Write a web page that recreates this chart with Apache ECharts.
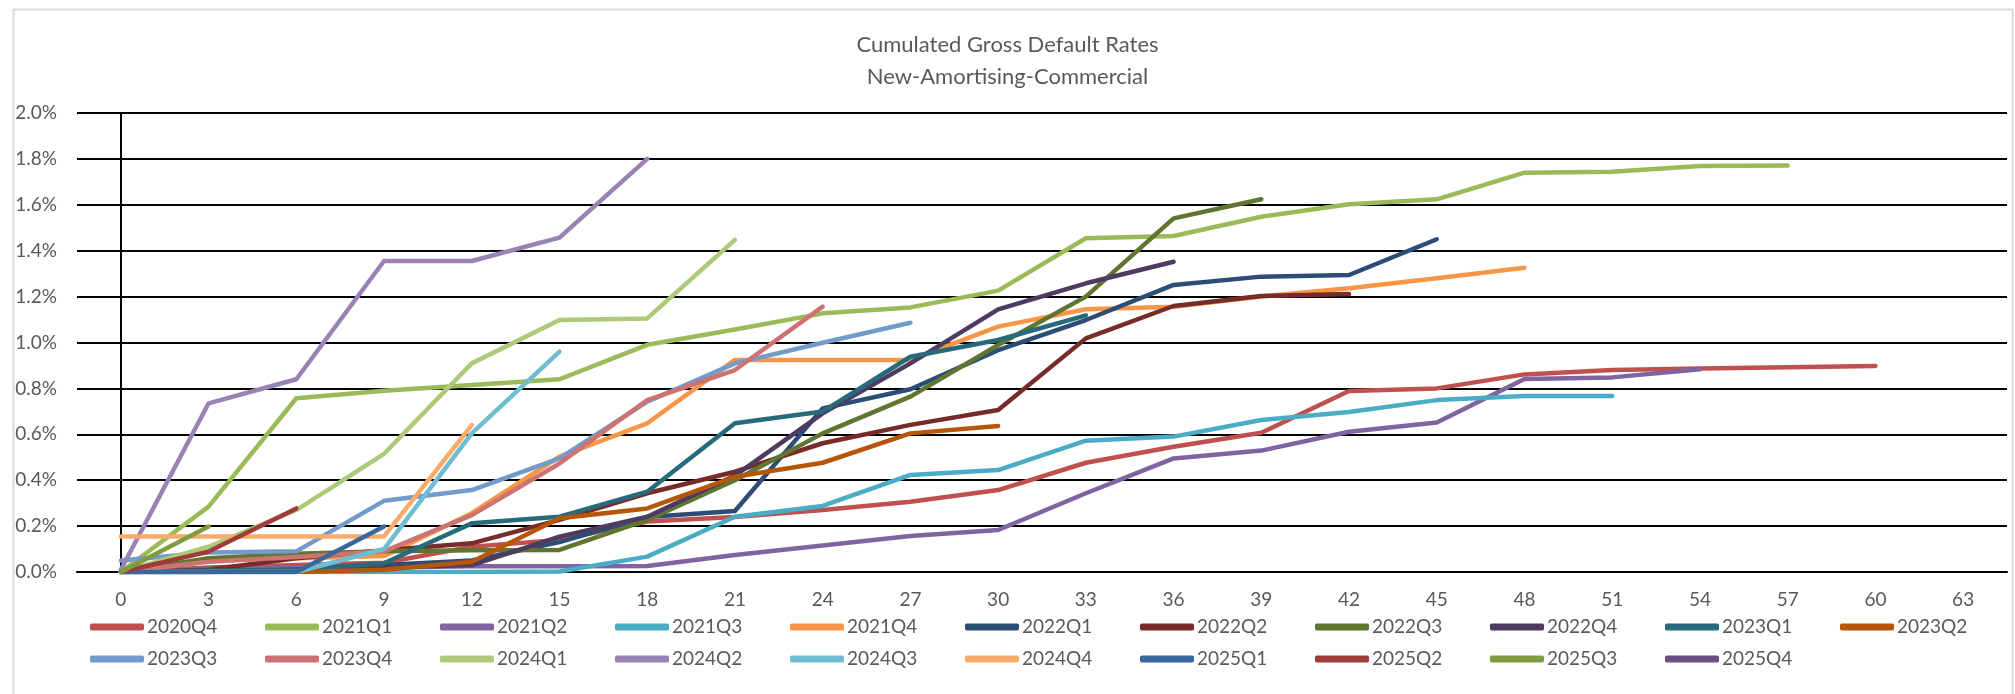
<!DOCTYPE html>
<html>
<head>
<meta charset="utf-8">
<script src="https://cdn.jsdelivr.net/npm/echarts@6/dist/echarts.min.js"></script>
<style>
  html, body { margin: 0; padding: 0; background: #fff; }
  #chart { width: 2015px; height: 694px; }
</style>
</head>
<body>
<div id="chart"></div>
<script>
// cohorts, one point every 3 months (month on book), values in %
const cohorts = ['2020Q4','2021Q1','2021Q2','2021Q3','2021Q4','2022Q1','2022Q2','2022Q3','2022Q4','2023Q1','2023Q2',
  '2023Q3','2023Q4','2024Q1','2024Q2','2024Q3','2024Q4','2025Q1','2025Q2','2025Q3','2025Q4']
const monthStep = 3
const xTicks = [0,3,6,9,12,15,18,21,24,27,30,33,36,39,42,45,48,51,54,57,60,63]

const s2020Q4 = [0, 0.02, 0.03, 0.04, 0.11, 0.14, 0.22, 0.24, 0.27, 0.306, 0.357, 0.476, 0.546, 0.607, 0.789, 0.80, 0.861, 0.88, 0.887, 0.892, 0.898]
const s2021Q1 = [0, 0.285, 0.757, 0.79, 0.815, 0.84, 0.99, 1.057, 1.127, 1.153, 1.226, 1.454, 1.464, 1.548, 1.602, 1.624, 1.740, 1.744, 1.769, 1.771]
const s2021Q2 = [0, 0.015, 0.02, 0.02, 0.025, 0.025, 0.026, 0.074, 0.115, 0.157, 0.183, 0.343, 0.495, 0.529, 0.611, 0.651, 0.841, 0.848, 0.883]
const s2021Q3 = [0, 0, 0, 0, 0, 0.002, 0.067, 0.241, 0.288, 0.423, 0.444, 0.572, 0.590, 0.662, 0.697, 0.749, 0.767, 0.767]
const s2021Q4 = [0, 0.05, 0.06, 0.07, 0.256, 0.503, 0.648, 0.924, 0.924, 0.924, 1.069, 1.145, 1.156, 1.2, 1.236, 1.28, 1.326]
const s2022Q1 = [0, 0, 0.01, 0.03, 0.05, 0.13, 0.24, 0.266, 0.713, 0.796, 0.967, 1.098, 1.251, 1.287, 1.294, 1.45]
const s2022Q2 = [0, 0.01, 0.06, 0.095, 0.125, 0.227, 0.343, 0.437, 0.561, 0.641, 0.706, 1.018, 1.159, 1.203, 1.211]
const s2022Q3 = [0, 0.06, 0.08, 0.09, 0.095, 0.096, 0.227, 0.40, 0.604, 0.764, 0.989, 1.2, 1.541, 1.624]
const s2022Q4 = [0, 0, 0.01, 0.02, 0.03, 0.154, 0.241, 0.42, 0.691, 0.909, 1.144, 1.258, 1.352]
const s2023Q1 = [0, 0.005, 0.01, 0.038, 0.212, 0.241, 0.35, 0.648, 0.699, 0.938, 1.011, 1.118]
const s2023Q2 = [0, 0, 0, 0.01, 0.045, 0.234, 0.277, 0.415, 0.476, 0.604, 0.636]
const s2023Q3 = [0.05, 0.085, 0.09, 0.31, 0.357, 0.495, 0.742, 0.909, 0.999, 1.086]
const s2023Q4 = [0, 0.045, 0.065, 0.09, 0.248, 0.473, 0.749, 0.88, 1.156]
const s2024Q1 = [0, 0.11, 0.27, 0.515, 0.909, 1.098, 1.105, 1.447]
const s2024Q2 = [0.01, 0.735, 0.84, 1.355, 1.355, 1.457, 1.8]
const s2024Q3 = [0, 0, 0, 0.1, 0.604, 0.96]
const s2024Q4 = [0.155, 0.155, 0.155, 0.155, 0.64]
const s2025Q1 = [0, 0, 0, 0.198]
const s2025Q2 = [0, 0.089, 0.277]
const s2025Q3 = [0, 0.198]
const s2025Q4 = [0]

const values = [s2020Q4, s2021Q1, s2021Q2, s2021Q3, s2021Q4, s2022Q1, s2022Q2, s2022Q3, s2022Q4, s2023Q1, s2023Q2,
  s2023Q3, s2023Q4, s2024Q1, s2024Q2, s2024Q3, s2024Q4, s2025Q1, s2025Q2, s2025Q3, s2025Q4]

// excel 2010 palette + darker / lighter variants
const colors = ['#C0504D','#9BBB59','#8064A2','#4BACC6','#F79646','#2C4D75','#772C2A','#5F7530','#4D3B62','#276A7C','#B65708',
  '#729ACA','#CD7371','#AFC97A','#9983B5','#6FBDD1','#F9AB6B','#3A679C','#9F3B38','#7F9D40','#6A5084']

const font = 'Lato, "Open Sans", sans-serif'
const grey = '#595959'

let chart = echarts.init(document.getElementById('chart'), null, { renderer: 'canvas' })

let series = cohorts.map(function (name, i) {
  return {
    name: name,
    type: 'line',
    symbol: 'none',
    showSymbol: false,
    color: colors[i],
    lineStyle: { width: 4.5, cap: 'round', join: 'round' },
    emphasis: { disabled: true },
    data: values[i].map(function (v, k) { return [k * monthStep, v] })
  }
})

function legendRow (names, top) {
  return {
    data: names,
    left: 90,
    top: top,
    padding: 0,
    orient: 'horizontal',
    icon: 'roundRect',
    itemWidth: 54,
    itemHeight: 7,
    itemGap: 38,
    selectedMode: false,
    textStyle: { fontFamily: font, fontSize: 19, color: grey, width: 80, lineHeight: 20, padding: [0, 0, 0, -2] }
  }
}

let option = {
  animation: false,
  backgroundColor: '#fff',
  title: {
    text: 'Cumulated Gross Default Rates\nNew-Amortising-Commercial',
    left: 'center',
    top: 24,
    textStyle: { fontFamily: font, fontSize: 22, fontWeight: 'normal', color: grey, lineHeight: 32 }
  },
  legend: [legendRow(cohorts.slice(0, 11), 617), legendRow(cohorts.slice(11), 649)],
  grid: { left: 77, right: 8, top: 113, bottom: 122, containLabel: false },
  xAxis: {
    type: 'value',
    min: -1.5,
    max: 64.5,
    interval: 1.5,
    splitLine: { show: false },
    axisTick: { show: false },
    axisLine: { show: true, lineStyle: { color: '#000', width: 2 } },
    axisLabel: {
      showMinLabel: false,
      showMaxLabel: false,
      margin: 18,
      fontFamily: font,
      fontSize: 19,
      color: grey,
      formatter: function (v) { return xTicks.indexOf(v) >= 0 ? String(v) : '' }
    }
  },
  yAxis: {
    type: 'value',
    min: 0,
    max: 2,
    interval: 0.2,
    axisLine: { show: true, lineStyle: { color: '#000', width: 2 } },
    axisTick: { show: false },
    splitLine: { lineStyle: { color: '#000', width: 2 } },
    axisLabel: {
      margin: 20,
      fontFamily: font,
      fontSize: 19,
      color: grey,
      formatter: function (v) { return v.toFixed(1) + '%' }
    }
  },
  graphic: [{
    type: 'rect',
    left: 11,
    top: 7,
    shape: { width: 1999, height: 700 },
    style: { fill: 'none', stroke: '#d9d9d9', lineWidth: 2 },
    silent: true,
    z: -1
  }],
  series: series
}
chart.setOption(option)
</script>
</body>
</html>
